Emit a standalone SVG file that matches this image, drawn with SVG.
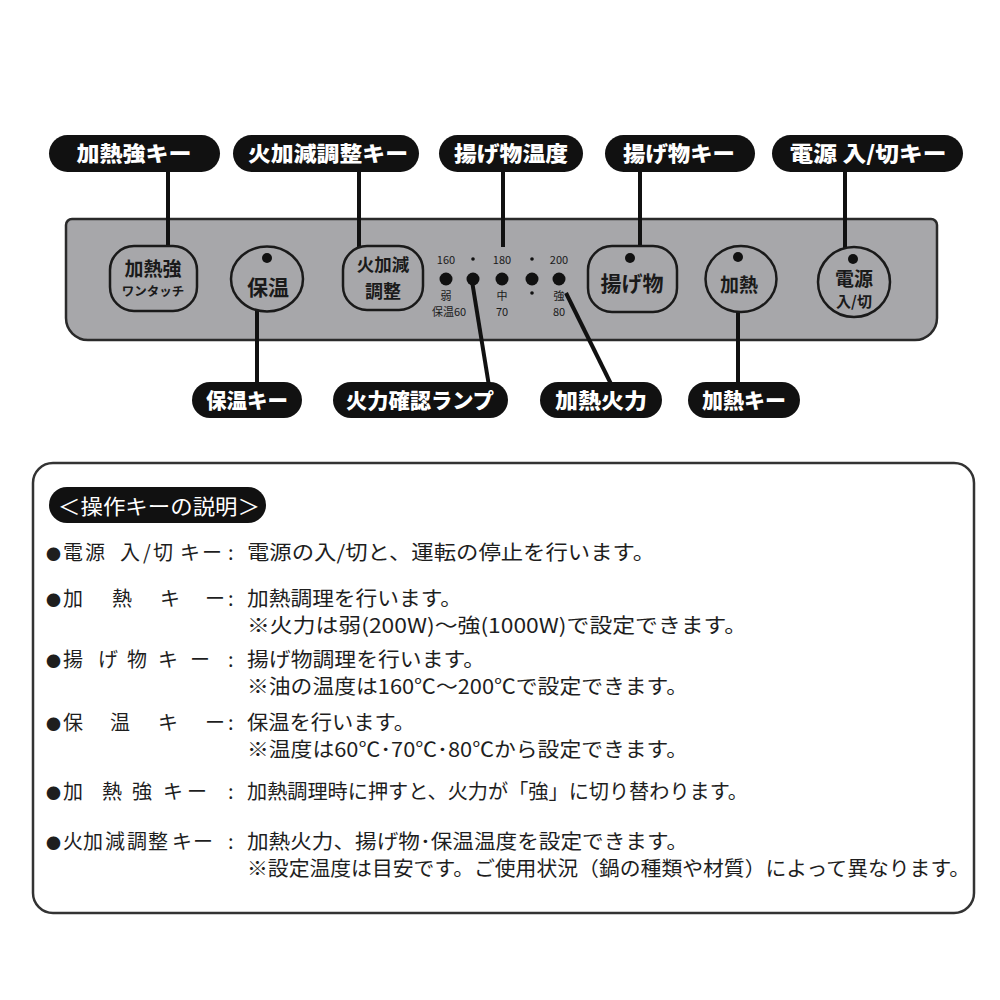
<svg xmlns="http://www.w3.org/2000/svg" width="1000" height="1000" viewBox="0 0 1000 1000">
<style>
.pill{fill:#111}
.pt{fill:#fff;font-family:"Noto Sans CJK JP","Noto Sans",sans-serif;font-weight:900;font-size:21px;text-anchor:middle}
.btn{fill:#a7a7aa;stroke:#1a1a1a;stroke-width:2.5}
.bt{fill:#1a1a1a;font-family:"Noto Sans CJK JP","Noto Sans",sans-serif;font-weight:700;text-anchor:middle}
.sm{fill:#1a1a1a;font-family:"Noto Sans CJK JP","Noto Sans",sans-serif;font-size:11px;text-anchor:middle}
.dot{fill:#111}
.conn line{stroke:#111;stroke-width:4}
.tx{fill:#1e1e1e;font-family:"Noto Sans CJK JP","Noto Sans",sans-serif;font-size:20px}
.bl{font-size:15px}
</style>
<rect width="1000" height="1000" fill="#fff"/>
<g id="panel">
<path d="M72 219 H931 A6 6 0 0 1 937 225 V318 A22 22 0 0 1 915 340 H88 A22 22 0 0 1 66 318 V225 A6 6 0 0 1 72 219 Z" fill="#a7a7aa" stroke="#2a2a2a" stroke-width="2.5"/>
</g>
<g class="conn" id="connectors">
<line x1="168" y1="172" x2="168" y2="247"/>
<line x1="359" y1="172" x2="359" y2="247"/>
<line x1="503" y1="172" x2="503" y2="247"/>
<line x1="640" y1="172" x2="640" y2="247"/>
<line x1="845" y1="172" x2="845" y2="248"/>
<line x1="257" y1="311" x2="257" y2="384"/>
<line x1="738" y1="311" x2="738" y2="384"/>
<line x1="472" y1="281" x2="489" y2="386"/>
<line x1="566" y1="293" x2="612" y2="386"/>
</g>
<g id="btn-kanetsukyo">
<rect class="btn" x="110" y="246" width="87" height="65" rx="24"/>
<text class="bt" x="153" y="276" font-size="19">加熱強</text>
<text class="bt" x="153" y="296" font-size="12.5">ワンタッチ</text>
</g>
<g id="btn-hoon">
<ellipse class="btn" cx="267" cy="279" rx="36" ry="32.5"/>
<circle class="dot" cx="267" cy="258" r="5"/>
<text class="bt" x="268" y="295" font-size="21">保温</text>
</g>
<g id="btn-hikagen">
<rect class="btn" x="343" y="246" width="80" height="64" rx="24"/>
<text class="bt" x="383" y="271" font-size="17.5">火加減</text>
<text class="bt" x="383" y="298" font-size="18">調整</text>
</g>
<g id="lamps">
<text class="sm" x="446" y="264">160</text>
<text class="sm" x="502" y="264">180</text>
<text class="sm" x="559" y="264">200</text>
<circle class="dot" cx="473" cy="259" r="1.8"/>
<circle class="dot" cx="532" cy="259" r="1.8"/>
<circle class="dot" cx="532" cy="293" r="1.8"/>
<circle class="dot" cx="446" cy="279" r="6.5"/>
<circle class="dot" cx="473" cy="279" r="6.5"/>
<circle class="dot" cx="502" cy="279" r="6.5"/>
<circle class="dot" cx="532" cy="279" r="6.5"/>
<circle class="dot" cx="559" cy="279" r="6.5"/>
<text class="sm" x="446" y="300" font-size="10">弱</text>
<text class="sm" x="449" y="316">保温60</text>
<text class="sm" x="502" y="300" font-size="10">中</text>
<text class="sm" x="502" y="316">70</text>
<text class="sm" x="559" y="300" font-size="10">強</text>
<text class="sm" x="559" y="316">80</text>
</g>
<g id="btn-agemono">
<rect class="btn" x="588" y="246" width="89" height="66" rx="24"/>
<circle class="dot" cx="630" cy="258" r="5"/>
<text class="bt" x="632" y="291" font-size="21">揚げ物</text>
</g>
<g id="btn-kanetsu">
<ellipse class="btn" cx="741" cy="279" rx="35.5" ry="33"/>
<circle class="dot" cx="738" cy="257" r="5"/>
<text class="bt" x="739" y="292" font-size="19">加熱</text>
</g>
<g id="btn-dengen">
<ellipse class="btn" cx="854" cy="282" rx="36" ry="35"/>
<circle class="dot" cx="853" cy="259" r="5"/>
<text class="bt" x="854" y="286" font-size="19">電源</text>
<text class="bt" x="854" y="307" font-size="15">入/切</text>
</g>
<g id="lbl-kanetsukyo-key"><rect class="pill" x="49" y="135" width="171" height="37" rx="18.5"/><text class="pt" x="134" y="161" textLength="115" lengthAdjust="spacingAndGlyphs">加熱強キー</text></g>
<g id="lbl-hikagen-key"><rect class="pill" x="233" y="135" width="186" height="37" rx="18.5"/><text class="pt" x="328" y="161" textLength="160" lengthAdjust="spacingAndGlyphs">火加減調整キー</text></g>
<g id="lbl-agemono-ondo"><rect class="pill" x="439" y="135" width="144" height="37" rx="18.5"/><text class="pt" x="511" y="161" textLength="114" lengthAdjust="spacingAndGlyphs">揚げ物温度</text></g>
<g id="lbl-agemono-key"><rect class="pill" x="605" y="135" width="150" height="37" rx="18.5"/><text class="pt" x="679" y="161" textLength="112" lengthAdjust="spacingAndGlyphs">揚げ物キー</text></g>
<g id="lbl-dengen-key"><rect class="pill" x="772" y="135" width="191" height="37" rx="18.5"/><text class="pt" x="868" y="161" textLength="157" lengthAdjust="spacingAndGlyphs">電源 入/切キー</text></g>
<g id="lbl-hoon-key"><rect class="pill" x="192" y="382" width="110" height="36" rx="18"/><text class="pt" x="247" y="408" textLength="82" lengthAdjust="spacingAndGlyphs">保温キー</text></g>
<g id="lbl-lamp"><rect class="pill" x="333" y="382" width="175" height="36" rx="18"/><text class="pt" x="420" y="408" textLength="148" lengthAdjust="spacingAndGlyphs">火力確認ランプ</text></g>
<g id="lbl-karyoku"><rect class="pill" x="540" y="382" width="122" height="36" rx="18"/><text class="pt" x="601" y="408" textLength="92" lengthAdjust="spacingAndGlyphs">加熱火力</text></g>
<g id="lbl-kanetsu-key"><rect class="pill" x="688" y="382" width="112" height="36" rx="18"/><text class="pt" x="744" y="408" textLength="84" lengthAdjust="spacingAndGlyphs">加熱キー</text></g>
<g id="explanation">
<rect x="33" y="463" width="941" height="450" rx="20" fill="#fff" stroke="#333" stroke-width="2.5"/>
<rect x="49" y="487" width="217" height="36" rx="18" fill="#111"/>
<text x="58" y="514" fill="#fff" font-family="'Noto Sans CJK JP','Noto Sans',sans-serif" font-size="21" textLength="202" lengthAdjust="spacingAndGlyphs">＜操作キーの説明＞</text>

<text class="tx" y="560"><tspan class="bl" x="46">●</tspan><tspan x="63 85 120 143 153 180 202 228">電源入/切キー:</tspan></text>
<text class="tx" x="247" y="560" textLength="408" lengthAdjust="spacingAndGlyphs">電源の入/切と、運転の停止を行います。</text>

<text class="tx" y="606"><tspan class="bl" x="46">●</tspan><tspan x="63 112 160 205 228">加熱キー:</tspan></text>
<text class="tx" x="247" y="606" textLength="215" lengthAdjust="spacingAndGlyphs">加熱調理を行います。</text>
<text class="tx" x="247" y="633" textLength="500" lengthAdjust="spacingAndGlyphs">※火力は弱(200W)～強(1000W)で設定できます。</text>

<text class="tx" y="667"><tspan class="bl" x="46">●</tspan><tspan x="63 98 127 158 190 228">揚げ物キー:</tspan></text>
<text class="tx" x="247" y="667" textLength="238" lengthAdjust="spacingAndGlyphs">揚げ物調理を行います。</text>
<text class="tx" x="247" y="694" textLength="441" lengthAdjust="spacingAndGlyphs">※油の温度は160℃～200℃で設定できます。</text>

<text class="tx" y="730"><tspan class="bl" x="46">●</tspan><tspan x="63 110 158 205 228">保温キー:</tspan></text>
<text class="tx" x="247" y="730" textLength="168" lengthAdjust="spacingAndGlyphs">保温を行います。</text>
<text class="tx" x="247" y="757" textLength="441" lengthAdjust="spacingAndGlyphs">※温度は60℃･70℃･80℃から設定できます。</text>

<text class="tx" y="799"><tspan class="bl" x="46">●</tspan><tspan x="63 102 132 163 187 228">加熱強キー:</tspan></text>
<text class="tx" x="247" y="799" textLength="501" lengthAdjust="spacingAndGlyphs">加熱調理時に押すと、火力が「強」に切り替わります。</text>

<text class="tx" y="849"><tspan class="bl" x="46">●</tspan><tspan x="63 83 105 127 148 172 193 228">火加減調整キー:</tspan></text>
<text class="tx" x="247" y="849" textLength="441" lengthAdjust="spacingAndGlyphs">加熱火力、揚げ物･保温温度を設定できます。</text>
<text class="tx" x="247" y="876" textLength="723" lengthAdjust="spacingAndGlyphs">※設定温度は目安です。ご使用状況（鍋の種類や材質）によって異なります。</text>
</g>
</svg>
